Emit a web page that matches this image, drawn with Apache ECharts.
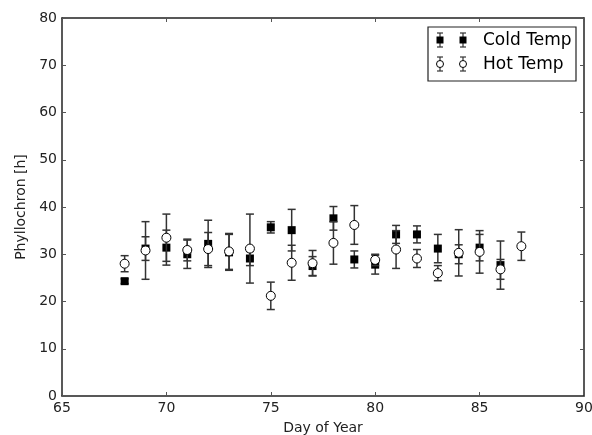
<!DOCTYPE html>
<html>
<head>
<meta charset="utf-8">
<script src="https://cdn.jsdelivr.net/npm/echarts@6/dist/echarts.min.js"></script>
<style>
  html, body { margin: 0; padding: 0; background: #fff; }
  #chart { width: 592px; height: 435px; }
</style>
</head>
<body>
<div id="chart"></div>
<script>
// 数据 - data
var coldDays = [68, 69, 70, 71, 72, 73, 74, 75, 76, 77, 78, 79, 80, 81, 82, 83, 84, 85, 86]
var coldMean = [24.3, 31.2, 31.4, 30.0, 32.2, 30.4, 29.1, 35.7, 35.1, 27.5, 37.6, 28.9, 27.8, 34.2, 34.2, 31.2, 30.0, 31.4, 27.7]
var coldErr = [0.5, 2.5, 3.7, 3.0, 5.0, 3.8, 1.5, 1.2, 4.4, 2.0, 2.5, 1.8, 2.0, 1.9, 1.8, 3.0, 2.0, 2.8, 5.1]

var hotDays = [68, 69, 70, 71, 72, 73, 74, 75, 76, 77, 78, 79, 80, 81, 82, 83, 84, 85, 86, 87]
var hotMean = [28.0, 30.8, 33.5, 30.9, 31.1, 30.6, 31.2, 21.2, 28.2, 28.1, 32.4, 36.2, 28.8, 31.0, 29.1, 26.0, 30.3, 30.5, 26.8, 31.7]
var hotErr = [1.7, 6.1, 5.0, 2.3, 3.5, 3.8, 7.3, 2.9, 3.7, 2.7, 4.5, 4.1, 1.2, 4.0, 1.9, 1.6, 4.9, 4.5, 2.1, 3.0]

var legendNames = ['Cold Temp', 'Hot Temp']

var lineColor = '#222'
var barColor = '#333'

function buildErr(days, mean, err) {
  var out = []
  for (var i = 0; i < days.length; i++) {
    out.push([days[i], mean[i] - err[i], mean[i] + err[i]])
  }
  return out
}
function buildPts(days, mean) {
  var out = []
  for (var i = 0; i < days.length; i++) {
    out.push([days[i], mean[i]])
  }
  return out
}

// 误差线
function errRender(params, api) {
  var x = api.value(0)
  var pLo = api.coord([x, api.value(1)])
  var pHi = api.coord([x, api.value(2)])
  var w = 4
  var st = { stroke: barColor, lineWidth: 1.5 }
  return {
    type: 'group',
    children: [
      { type: 'line', shape: { x1: pLo[0], y1: pLo[1], x2: pHi[0], y2: pHi[1] }, style: st },
      { type: 'line', shape: { x1: pLo[0] - w, y1: pLo[1], x2: pLo[0] + w, y2: pLo[1] }, style: st },
      { type: 'line', shape: { x1: pHi[0] - w, y1: pHi[1], x2: pHi[0] + w, y2: pHi[1] }, style: st },
    ],
  }
}

var chart = echarts.init(document.getElementById('chart'))

var axisFont = { fontFamily: 'DejaVu Sans', fontSize: 14, color: lineColor }

// 图例 (matplotlib 风格)
function legendGlyph(cx, cy, half, filled) {
  var st = { stroke: barColor, lineWidth: 1.2 }
  var items = [
    { type: 'line', shape: { x1: cx, y1: cy - half, x2: cx, y2: cy + half }, style: st },
    { type: 'line', shape: { x1: cx - 3, y1: cy - half, x2: cx + 3, y2: cy - half }, style: st },
    { type: 'line', shape: { x1: cx - 3, y1: cy + half, x2: cx + 3, y2: cy + half }, style: st },
  ]
  if (filled) {
    items.push({ type: 'rect', shape: { x: cx - 3.5, y: cy - 3.5, width: 7, height: 7 }, style: { fill: '#000' } })
  } else {
    items.push({ type: 'circle', shape: { cx: cx, cy: cy, r: 3.5 }, style: { fill: '#fff', stroke: '#000', lineWidth: 1 } })
  }
  return items
}

var legendChildren = [
  { type: 'rect', shape: { x: 428, y: 27, width: 148, height: 54 }, style: { fill: '#fff', stroke: lineColor, lineWidth: 1.2 } },
  { type: 'text', x: 483, y: 41, style: { text: legendNames[0], font: '17px "DejaVu Sans"', fill: '#000', verticalAlign: 'middle' } },
  { type: 'text', x: 483, y: 65, style: { text: legendNames[1], font: '17px "DejaVu Sans"', fill: '#000', verticalAlign: 'middle' } },
]
legendChildren = legendChildren
  .concat(legendGlyph(440, 40, 7, true))
  .concat(legendGlyph(463, 40, 7, true))
  .concat(legendGlyph(440, 64, 7, false))
  .concat(legendGlyph(463, 64, 7, false))

var option = {
  animation: false,
  backgroundColor: '#fff',
  grid: { left: 62, right: 8, top: 18, bottom: 39, containLabel: false, outerBoundsMode: 'none' },
  xAxis: [
    {
      type: 'value',
      min: 65,
      max: 90,
      interval: 5,
      name: 'Day of Year',
      nameLocation: 'middle',
      nameGap: 25,
      nameTextStyle: { fontFamily: 'DejaVu Sans', fontSize: 14, color: lineColor },
      axisLine: { show: true, onZero: false, lineStyle: { color: lineColor, width: 1.5 } },
      axisTick: { show: true, inside: true, length: 4, lineStyle: { color: '#555' } },
      axisLabel: Object.assign({ margin: 5 }, axisFont),
      splitLine: { show: false },
    },
    {
      type: 'value',
      position: 'top',
      min: 65,
      max: 90,
      interval: 5,
      axisLine: { show: true, onZero: false, lineStyle: { color: lineColor, width: 1.5 } },
      axisTick: { show: true, inside: true, length: 4, lineStyle: { color: '#555' } },
      axisLabel: { show: false },
      splitLine: { show: false },
    },
  ],
  yAxis: [
    {
      type: 'value',
      min: 0,
      max: 80,
      interval: 10,
      name: 'Phyllochron [h]',
      nameLocation: 'middle',
      nameGap: 33,
      nameTextStyle: { fontFamily: 'DejaVu Sans', fontSize: 14, color: lineColor },
      axisLine: { show: true, onZero: false, lineStyle: { color: lineColor, width: 1.5 } },
      axisTick: { show: true, inside: true, length: 4, lineStyle: { color: '#555' } },
      axisLabel: Object.assign({ margin: 5 }, axisFont),
      splitLine: { show: false },
    },
    {
      type: 'value',
      position: 'right',
      min: 0,
      max: 80,
      interval: 10,
      axisLine: { show: true, onZero: false, lineStyle: { color: lineColor, width: 1.5 } },
      axisTick: { show: true, inside: true, length: 4, lineStyle: { color: '#555' } },
      axisLabel: { show: false },
      splitLine: { show: false },
    },
  ],
  graphic: legendChildren,
  series: [
    {
      name: legendNames[0] + ' err',
      type: 'custom',
      renderItem: errRender,
      data: buildErr(coldDays, coldMean, coldErr),
      z: 1,
    },
    {
      name: legendNames[0],
      type: 'scatter',
      symbol: 'rect',
      symbolSize: 8,
      itemStyle: { color: '#000', opacity: 1 },
      data: buildPts(coldDays, coldMean),
      z: 2,
    },
    {
      name: legendNames[1] + ' err',
      type: 'custom',
      renderItem: errRender,
      data: buildErr(hotDays, hotMean, hotErr),
      z: 3,
    },
    {
      name: legendNames[1],
      type: 'scatter',
      symbol: 'circle',
      symbolSize: 9,
      itemStyle: { color: '#fff', borderColor: '#000', borderWidth: 1, opacity: 1 },
      data: buildPts(hotDays, hotMean),
      z: 4,
    },
  ],
}

chart.setOption(option)
</script>
</body>
</html>
